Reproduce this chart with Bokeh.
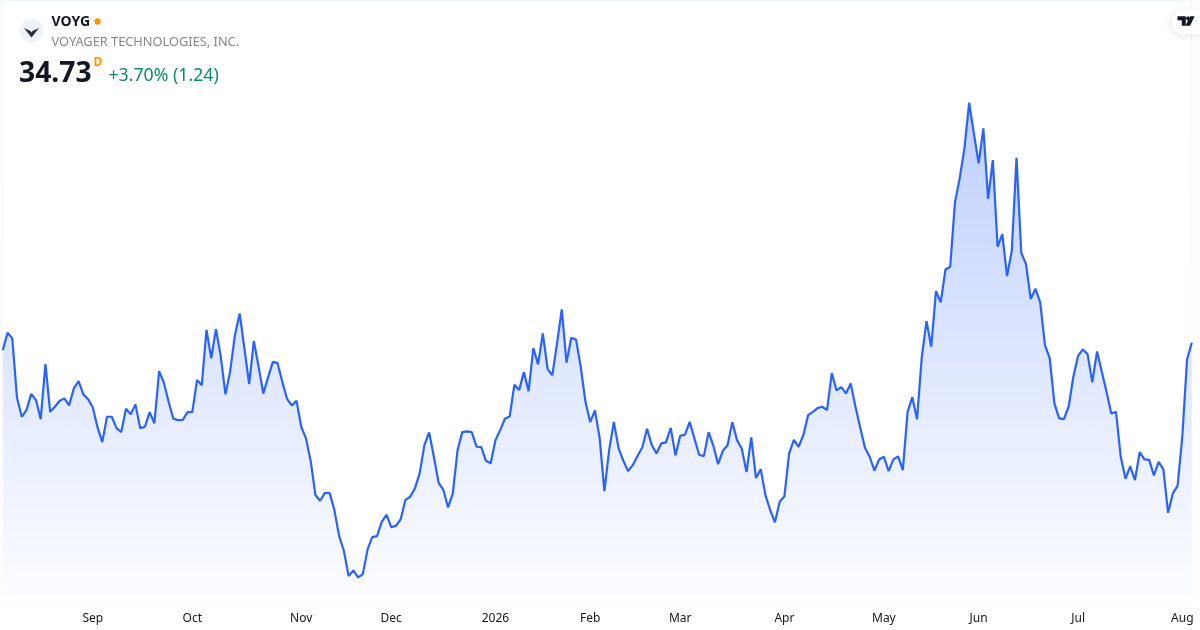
from bokeh.plotting import figure
from bokeh.embed import file_html
from bokeh.resources import INLINE
from bokeh.models import FixedTicker, BoxAnnotation, Range1d
from bokeh.core.properties import value
import numpy as np

close = [
34.18,35.48,35.06,30.60,29.18,29.68,30.90,30.43,29.00,33.13,29.55,29.93,30.38,30.56,30.03,31.31,31.85,30.86,30.50,29.88,
28.38,27.28,29.18,29.18,28.33,28.03,29.78,29.36,30.11,28.33,28.43,29.53,28.68,32.60,31.73,30.30,29.03,28.93,28.95,29.53,
29.53,31.93,31.55,35.70,33.56,35.75,33.73,30.86,32.60,35.30,36.93,34.31,31.63,34.85,32.93,30.93,32.13,33.30,33.20,31.80,
30.53,30.03,30.38,28.43,27.56,25.85,23.30,22.88,23.48,23.45,22.18,20.23,19.13,17.23,17.66,17.13,17.38,19.23,20.15,20.23,
21.30,21.83,20.90,21.00,21.50,22.95,23.18,23.81,24.93,27.05,28.01,26.18,24.23,23.70,22.38,23.43,26.68,28.03,28.08,28.03,
26.93,26.90,25.88,25.70,27.43,28.18,29.03,29.21,31.58,31.18,32.53,31.10,34.33,33.11,35.43,32.78,32.28,34.68,37.23,33.23,
35.10,34.98,32.93,30.30,28.78,29.66,27.58,23.60,26.68,28.80,26.81,25.88,25.10,25.55,26.25,26.88,28.28,27.05,26.43,27.18,
27.26,28.35,26.28,27.75,27.83,28.80,27.56,26.33,26.23,28.03,27.00,25.63,26.63,27.05,28.78,27.43,26.78,25.03,27.63,24.58,
25.25,23.30,22.18,21.26,22.80,23.21,26.43,27.45,26.93,27.80,29.30,29.55,29.83,29.93,29.68,32.45,31.16,31.40,30.93,31.68,
29.93,28.38,26.85,26.18,25.13,25.98,26.18,25.10,25.98,26.21,25.18,29.53,30.65,29.00,33.65,36.35,34.43,38.60,37.76,40.23,
40.43,45.26,47.06,49.31,52.73,50.43,48.18,50.81,45.53,48.43,41.93,42.88,39.73,41.63,48.60,41.48,40.63,38.00,38.78,37.76,
34.55,33.58,30.18,29.06,29.00,29.93,32.18,33.75,34.23,33.88,31.76,34.08,32.55,31.05,29.43,29.55,26.18,24.53,25.46,24.43,
26.53,25.98,25.95,24.78,25.80,25.23,21.98,23.43,24.00,27.68,33.49,34.73,
]
tick_index = [19, 40, 63, 82, 104, 124, 143, 165, 186, 206, 227, 249]
tick_label = ["Sep", "Oct", "Nov", "Dec", "2026", "Feb", "Mar", "Apr", "May", "Jun", "Jul", "Aug"]
ticker_name = "VOYG"
company = "VOYAGER TECHNOLOGIES, INC."
last_text = "34.73"
change_text = "+3.70% (1.24)"

W, H, AXIS = 1200, 630, 28
FH = H - AXIS
xmin, xmax = -2.3 / 4.737, (W - 2.3) / 4.737
ytop, ybot = 60.40, 60.40 - FH * 0.075
px = lambda a: xmin + np.asarray(a, float) / W * (xmax - xmin)
py = lambda a: ytop - np.asarray(a, float) * 0.075

p = figure(frame_width=W, frame_height=FH, output_backend="svg", toolbar_location=None,
           x_range=Range1d(xmin, xmax), y_range=Range1d(ybot, ytop),
           min_border_left=0, min_border_right=0, min_border_top=0, min_border_bottom=AXIS)
p.styles = {"position": "fixed", "left": "0px", "top": "0px"}
p.background_fill_color = "white"
p.border_fill_color = "white"
p.outline_line_color = None
p.grid.visible = False
p.yaxis.visible = False
p.xaxis.ticker = FixedTicker(ticks=tick_index)
p.xaxis.major_label_overrides = dict(zip(tick_index, tick_label))
p.xaxis.axis_line_color = None
p.xaxis.major_tick_line_color = None
p.xaxis.minor_tick_line_color = None
p.xaxis.major_tick_out = 0
p.xaxis.major_tick_in = 0
p.xaxis.major_label_standoff = 6
p.xaxis.major_label_text_font = "Noto Sans"
p.xaxis.major_label_text_font_size = "12px"
p.xaxis.major_label_text_color = "#131722"

x = np.arange(len(close))
y = np.array(close)

# gradient strip under the curve, masked by white above the curve
rows = FH
t = (np.arange(rows) + 0.5) / (FH - 102)           # 0 = bottom of the frame
alpha = np.clip(0.012 + 0.288 * t, 0, 0.30)
rgba = np.zeros((rows, 1, 4), dtype=np.uint8)
rgba[:, 0, 0] = np.round(255 - 214 * alpha)
rgba[:, 0, 1] = np.round(255 - 157 * alpha)
rgba[:, 0, 2] = 255
rgba[:, 0, 3] = 255
p.image_rgba(image=[rgba.view(dtype=np.uint32).reshape(rows, 1)], x=0, y=ybot,
             dw=len(close) - 1, dh=ytop - ybot)
p.varea(x=x, y1=y, y2=ytop, fill_color="white")
p.line(x, y, line_color="#2962ff", line_width=2.2)

# header
def label(sx, sy, text, size, color, weight="normal", font="Noto Sans"):
    p.text(x=[float(px(sx))], y=[float(py(sy))], text=[text], text_font=value(font),
           text_font_size=size, text_color=color, text_font_style=weight,
           text_baseline="middle", text_align="left")

th = np.linspace(0, 2 * np.pi, 61)
p.patch(px(31 + 12 * np.cos(th)), py(30 + 12 * np.sin(th)), fill_color="#f0f3fa", line_color=None)
mark = np.array([(23.5, 27.5), (30, 30.5), (31, 32), (32, 30.5), (38.5, 27.5), (35, 32), (31, 37), (27, 32)])
p.patch(px(mark[:, 0]), py(mark[:, 1]), fill_color="#2a2e39", line_color=None)
label(51, 20, ticker_name, "14px", "#131722", "bold")
p.patch(px(97 + 3.2 * np.cos(th)), py(21 + 3.2 * np.sin(th)), fill_color="#ff9800", line_color=None)
label(51, 40.2, company, "12.8px", "#888888")
label(18.5, 70.5, last_text, "28.3px", "#131722", "bold")
label(93, 61, "D", "12px", "#ff9800", "bold")
label(108, 73.5, change_text, "17.7px", "#0b8a74")

# TradingView badge
arc = th[15:46]
for grow, a in [(6, 0.008), (4.5, 0.01), (3, 0.012), (1.5, 0.015)]:
    r = 12 + grow
    p.patch(px(np.r_[1183 + r * np.cos(arc), 1205, 1205]),
            py(np.r_[23 + r * np.sin(arc), 23 - r, 23 + r]),
            fill_color="#131722", fill_alpha=a, line_color=None)
p.patch(px(np.r_[1183 + 12 * np.cos(arc), 1200, 1200]),
        py(np.r_[21.5 + 12 * np.sin(arc), 9.5, 33.5]), fill_color="white", line_color=None)
tv_t = np.array([(1177, 15.8), (1185.3, 15.8), (1185.3, 25.2), (1181.3, 25.2), (1181.3, 19.7), (1177, 19.7)])
tv_v = np.array([(1189.5, 15.8), (1194.2, 15.8), (1189.5, 25.2), (1185, 25.2)])
p.patch(px(tv_t[:, 0]), py(tv_t[:, 1]), fill_color="#131722", line_color=None)
p.patch(px(tv_v[:, 0]), py(tv_v[:, 1]), fill_color="#131722", line_color=None)
p.patch(px(1187.4 + 1.9 * np.cos(th)), py(17.8 + 1.9 * np.sin(th)), fill_color="#131722", line_color=None)

# widget border
p.add_layout(BoxAnnotation(left=0.5, right=W - 0.5, top=0.5, bottom=H - 0.5,
                           left_units="canvas", right_units="canvas",
                           top_units="canvas", bottom_units="canvas",
                           fill_color=None, line_color="#e0e3eb", line_width=1, border_radius=3))

open("out.html", "w").write(file_html(p, INLINE))
